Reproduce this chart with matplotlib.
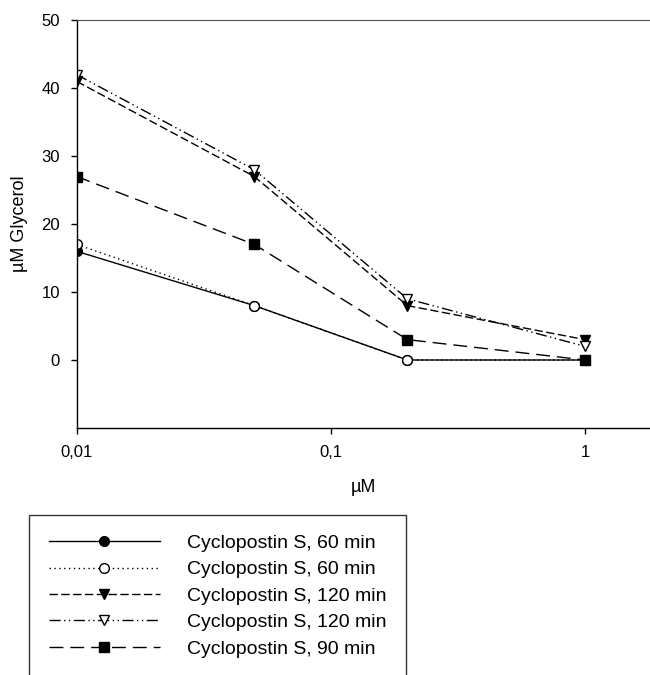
import matplotlib
matplotlib.use("Agg")
import matplotlib.pyplot as plt

plt.rcParams["font.family"] = ["Liberation Sans", "DejaVu Sans"]

# concentrations (µM) and glycerol release (µM)
conc = [0.01, 0.05, 0.2, 1.0]
s60_a = [16, 8, 0, 0]
s60_b = [17, 8, 0, 0]
s120_a = [41, 27, 8, 3]
s120_b = [42, 28, 9, 2]
s90 = [27, 17, 3, 0]

labels = ["Cyclopostin S, 60 min", "Cyclopostin S, 60 min",
          "Cyclopostin S, 120 min", "Cyclopostin S, 120 min",
          "Cyclopostin S, 90 min"]
x_ticks = [0.01, 0.1, 1]
x_ticklabels = ["0,01", "0,1", "1"]
y_ticks = [0, 10, 20, 30, 40, 50]

fig = plt.figure(figsize=(6.5, 6.75), dpi=100)
ax = fig.add_axes([0.118, 0.366, 0.882, 0.604])

ms = 7
ax.plot(conc, s60_a, color="black", lw=1, ls="-", marker="o",
        ms=ms, mfc="black", mec="black", label=labels[0])
ax.plot(conc, s60_b, color="black", lw=1, ls=(0, (1, 2.5)), marker="o",
        ms=ms, mfc="white", mec="black", label=labels[1])
ax.plot(conc, s120_a, color="black", lw=1, ls=(0, (6, 2.5)), marker="v",
        ms=ms, mfc="black", mec="black", label=labels[2])
ax.plot(conc, s120_b, color="black", lw=1, ls=(0, (8, 2.5, 1, 2.5, 1, 2.5)),
        marker="v", ms=ms, mfc="white", mec="black", label=labels[3])
ax.plot(conc, s90, color="black", lw=1, ls=(0, (10, 5)), marker="s",
        ms=ms, mfc="black", mec="black", label=labels[4])

ax.set_xscale("log")
ax.set_xlim(0.01, 1.8)
ax.set_ylim(-10, 50)
ax.set_xticks(x_ticks)
ax.set_xticklabels(x_ticklabels)
ax.xaxis.set_minor_locator(matplotlib.ticker.NullLocator())
ax.set_yticks(y_ticks)
ax.tick_params(direction="out", length=4, width=1, labelsize=12, pad=8)

ax.spines["right"].set_visible(False)
ax.spines["top"].set_color("#555555")
ax.spines["top"].set_linewidth(0.8)
for s in ["left", "bottom"]:
    ax.spines[s].set_linewidth(1)

ax.set_xlabel("µM", fontsize=13, labelpad=14)
ax.set_ylabel("µM Glycerol", fontsize=13, labelpad=10)

leg = fig.legend(loc="upper left", bbox_to_anchor=(0.045, 0.237),
                 fontsize=14, handlelength=5.7, handletextpad=1.4,
                 labelspacing=0.45, borderpad=1.0, frameon=True,
                 fancybox=False, edgecolor="black", borderaxespad=0)
leg.get_frame().set_linewidth(1)

fig.savefig("out.png", dpi=100)
